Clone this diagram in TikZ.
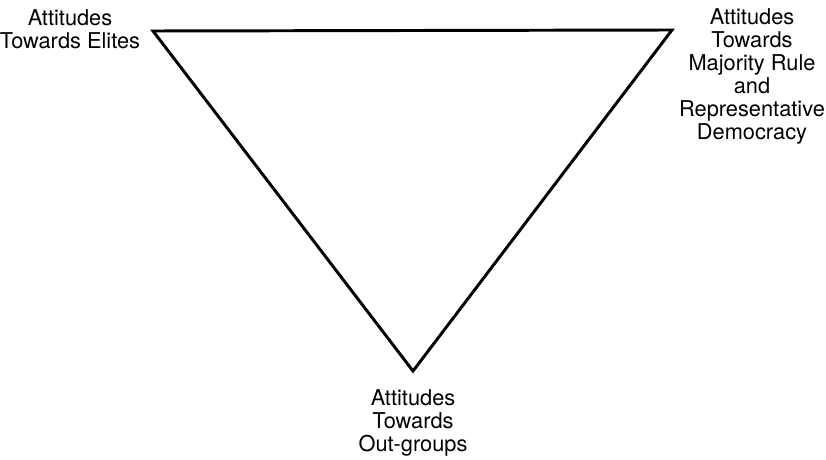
\documentclass[tikz,border=0pt]{standalone}
\usepackage{fontspec}
\setmainfont{TeX Gyre Heros}
\usepackage{tikz}

\begin{document}
\begin{tikzpicture}[
  x=0.025cm, y=-0.025cm,
  font=\fontsize{15.5pt}{16.4pt}\selectfont,
  lbl/.style={align=center, inner sep=0pt, anchor=north},
  side/.style={line width=2.1pt, line join=miter, black}
]
\useasboundingbox (0,0) rectangle (826,459);
% corners of the triangle
\coordinate (el) at (153,31);
\coordinate (mj) at (672,30);
\coordinate (og) at (413,371);
% labels
\node[lbl] (elites) at (70,9) {Attitudes\\Towards Elites};
\node[lbl] (major) at (752,8) {Attitudes\\Towards\\Majority Rule\\and\\Representative\\Democracy};
\node[lbl] (out) at (413,389) {Attitudes\\Towards\\Out-groups};
\draw[side] (el) -- (mj) -- (og) -- cycle;
\end{tikzpicture}
\end{document}
